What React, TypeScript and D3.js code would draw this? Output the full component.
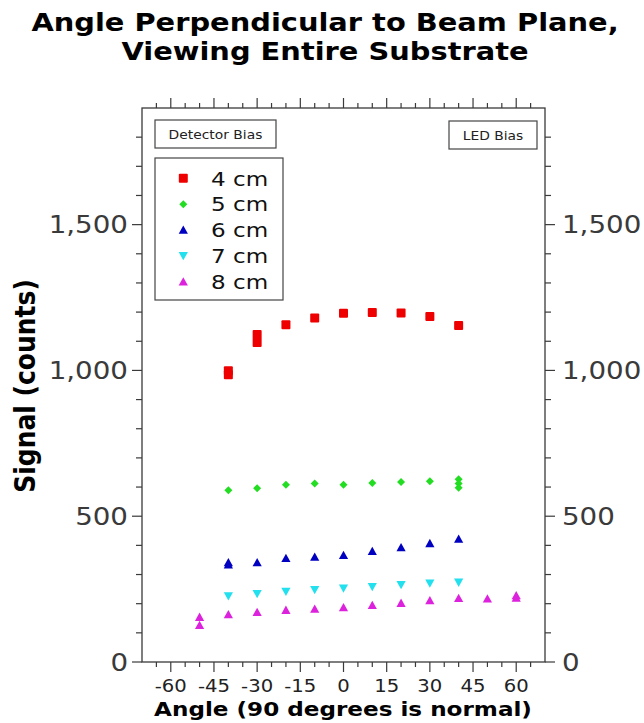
import React from "react";
import * as d3 from "d3";

const titleLines = ["Angle Perpendicular to Beam Plane,", "Viewing Entire Substrate"];
const xLabel = "Angle (90 degrees is normal)";
const yLabel = "Signal (counts)";
const xMajorTicks = [-60, -45, -30, -15, 0, 15, 30, 45, 60];
const yMajorTicks = [0, 500, 1000, 1500];

const seriesNames = ["4 cm", "5 cm", "6 cm", "7 cm", "8 cm"];
const seriesColors = ["#ee0000", "#22dd22", "#0000c0", "#22e0ee", "#dd22dd"];
const seriesShapes = ["square", "diamond", "triangleUp", "triangleDown", "triangleUp"];

const angles4 = [-40, -40, -30, -30, -20, -10, 0, 10, 20, 30, 40];
const signal4 = [985, 999, 1096, 1123, 1157, 1180, 1196, 1199, 1197, 1185, 1154];
const angles5 = [-40, -30, -20, -10, 0, 10, 20, 30, 40, 40, 40];
const signal5 = [589, 596, 608, 612, 608, 614, 617, 620, 627, 612, 598];
const angles6 = [-40, -40, -30, -20, -10, 0, 10, 20, 30, 40];
const signal6 = [334, 341, 341, 356, 360, 366, 380, 393, 407, 422];
const angles7 = [-40, -30, -20, -10, 0, 10, 20, 30, 40];
const signal7 = [226, 234, 242, 248, 253, 258, 265, 270, 273];
const angles8 = [-50, -50, -40, -30, -20, -10, 0, 10, 20, 30, 40, 50, 60, 60];
const signal8 = [154, 126, 163, 171, 178, 182, 187, 195, 202, 211, 219, 217, 228, 220];

const allAngles = [angles4, angles5, angles6, angles7, angles8];
const allSignals = [signal4, signal5, signal6, signal7, signal8];

const W = 644, H = 723;
const L = 142, R = 545, T = 108, B = 662;
const SX = 1.155;
const FONT = "'DejaVu Sans', sans-serif";
const AX = "#3a3a3a";

function Txt({ x, y, anchor = "start", size, weight = "normal", fill = "#000", children }: any) {
  return (
    <text
      transform={`translate(${x},${y}) scale(${SX},1)`}
      textAnchor={anchor}
      fontSize={size}
      fontWeight={weight}
      fill={fill}
      fontFamily={FONT}
    >
      {children}
    </text>
  );
}

function Marker({ shape, cx, cy, color }: any) {
  if (shape === "square") {
    return <rect x={cx - 4.5} y={cy - 4.5} width={9} height={9} rx={1} fill={color} />;
  }
  if (shape === "diamond") {
    return <path d={`M${cx},${cy - 4}L${cx + 4},${cy}L${cx},${cy + 4}L${cx - 4},${cy}Z`} fill={color} />;
  }
  if (shape === "triangleUp") {
    return <path d={`M${cx},${cy - 4.5}L${cx + 4.6},${cy + 3.8}L${cx - 4.6},${cy + 3.8}Z`} fill={color} />;
  }
  return <path d={`M${cx},${cy + 4.5}L${cx + 4.6},${cy - 3.8}L${cx - 4.6},${cy - 3.8}Z`} fill={color} />;
}

export default function App() {
  const x = d3.scaleLinear().domain([-70, 70]).range([L, R]);
  const y = d3.scaleLinear().domain([0, 1900]).range([B, T]);
  const xMinor = d3.range(-65, 70, 5).filter((v) => !xMajorTicks.includes(v));
  const yMinor = d3.range(100, 1900, 100).filter((v) => !yMajorTicks.includes(v));
  const fmt = d3.format(",");

  return (
    <svg width={W} height={H} style={{ position: "absolute", left: 0, top: 0, background: "#fff" }}>
      <rect width={W} height={H} fill="#fff" />
      {/* title */}
      <Txt x={325} y={31} anchor="middle" size={25} weight="bold">{titleLines[0]}</Txt>
      <Txt x={325} y={60} anchor="middle" size={25} weight="bold">{titleLines[1]}</Txt>

      {/* ticks */}
      <g stroke={AX} strokeWidth={1.2}>
        {xMajorTicks.map((v) => (
          <g key={"xm" + v}>
            <line x1={x(v)} x2={x(v)} y1={B} y2={B + 10} />
            <line x1={x(v)} x2={x(v)} y1={T} y2={T - 10} />
          </g>
        ))}
        {xMinor.map((v) => (
          <g key={"xn" + v}>
            <line x1={x(v)} x2={x(v)} y1={B} y2={B + 5} />
            <line x1={x(v)} x2={x(v)} y1={T} y2={T - 5} />
          </g>
        ))}
        {yMajorTicks.map((v) => (
          <g key={"ym" + v}>
            <line x1={L} x2={L - 10} y1={y(v)} y2={y(v)} />
            <line x1={R} x2={R + 10} y1={y(v)} y2={y(v)} />
          </g>
        ))}
        {yMinor.map((v) => (
          <g key={"yn" + v}>
            <line x1={L} x2={L - 6} y1={y(v)} y2={y(v)} />
            <line x1={R} x2={R + 6} y1={y(v)} y2={y(v)} />
          </g>
        ))}
      </g>
      <rect x={L} y={T} width={R - L} height={B - T} fill="none" stroke={AX} strokeWidth={1.3} />

      {/* tick labels */}
      {xMajorTicks.map((v) => (
        <Txt key={"xl" + v} x={x(v)} y={692} anchor="middle" size={17} fill="#222">
          {String(v)}
        </Txt>
      ))}
      {yMajorTicks.map((v) => (
        <g key={"yl" + v}>
          <Txt x={128} y={y(v) + 8.7} anchor="end" size={24} fill="#3a3a3a">{fmt(v)}</Txt>
          <Txt x={562} y={y(v) + 8.7} anchor="start" size={24} fill="#3a3a3a">{fmt(v)}</Txt>
        </g>
      ))}

      {/* axis titles */}
      <Txt x={343} y={716} anchor="middle" size={20} weight="bold">{xLabel}</Txt>
      <text
        transform={`translate(35,386) scale(${SX},1) rotate(-90)`}
        textAnchor="middle"
        fontSize={25}
        fontWeight="bold"
        fontFamily={FONT}
      >
        {yLabel}
      </text>

      {/* annotation boxes */}
      <rect x={155} y={120} width={121} height={28} fill="#fff" stroke="#444" strokeWidth={1.2} />
      <Txt x={215.5} y={139} anchor="middle" size={12} fill="#222">Detector Bias</Txt>
      <rect x={449} y={121} width={88} height={28} fill="#fff" stroke="#444" strokeWidth={1.2} />
      <Txt x={493} y={140} anchor="middle" size={12} fill="#222">LED Bias</Txt>

      {/* data */}
      {allAngles.map((angs, si) => (
        <g key={"s" + si}>
          {angs.map((a, i) => (
            <Marker
              key={i}
              shape={seriesShapes[si]}
              cx={x(a)}
              cy={y(allSignals[si][i])}
              color={seriesColors[si]}
            />
          ))}
        </g>
      ))}

      {/* legend */}
      <rect x={155} y={158} width={128} height={142} fill="#fff" stroke="#444" strokeWidth={1.2} />
      {seriesNames.map((n, i) => {
        const cy = 178.3 + i * 25.85;
        return (
          <g key={"lg" + i}>
            <Marker shape={seriesShapes[i]} cx={183.3} cy={cy} color={seriesColors[i]} />
            <Txt x={211} y={cy + 7.3} size={20} fill="#111">{n}</Txt>
          </g>
        );
      })}
    </svg>
  );
}
